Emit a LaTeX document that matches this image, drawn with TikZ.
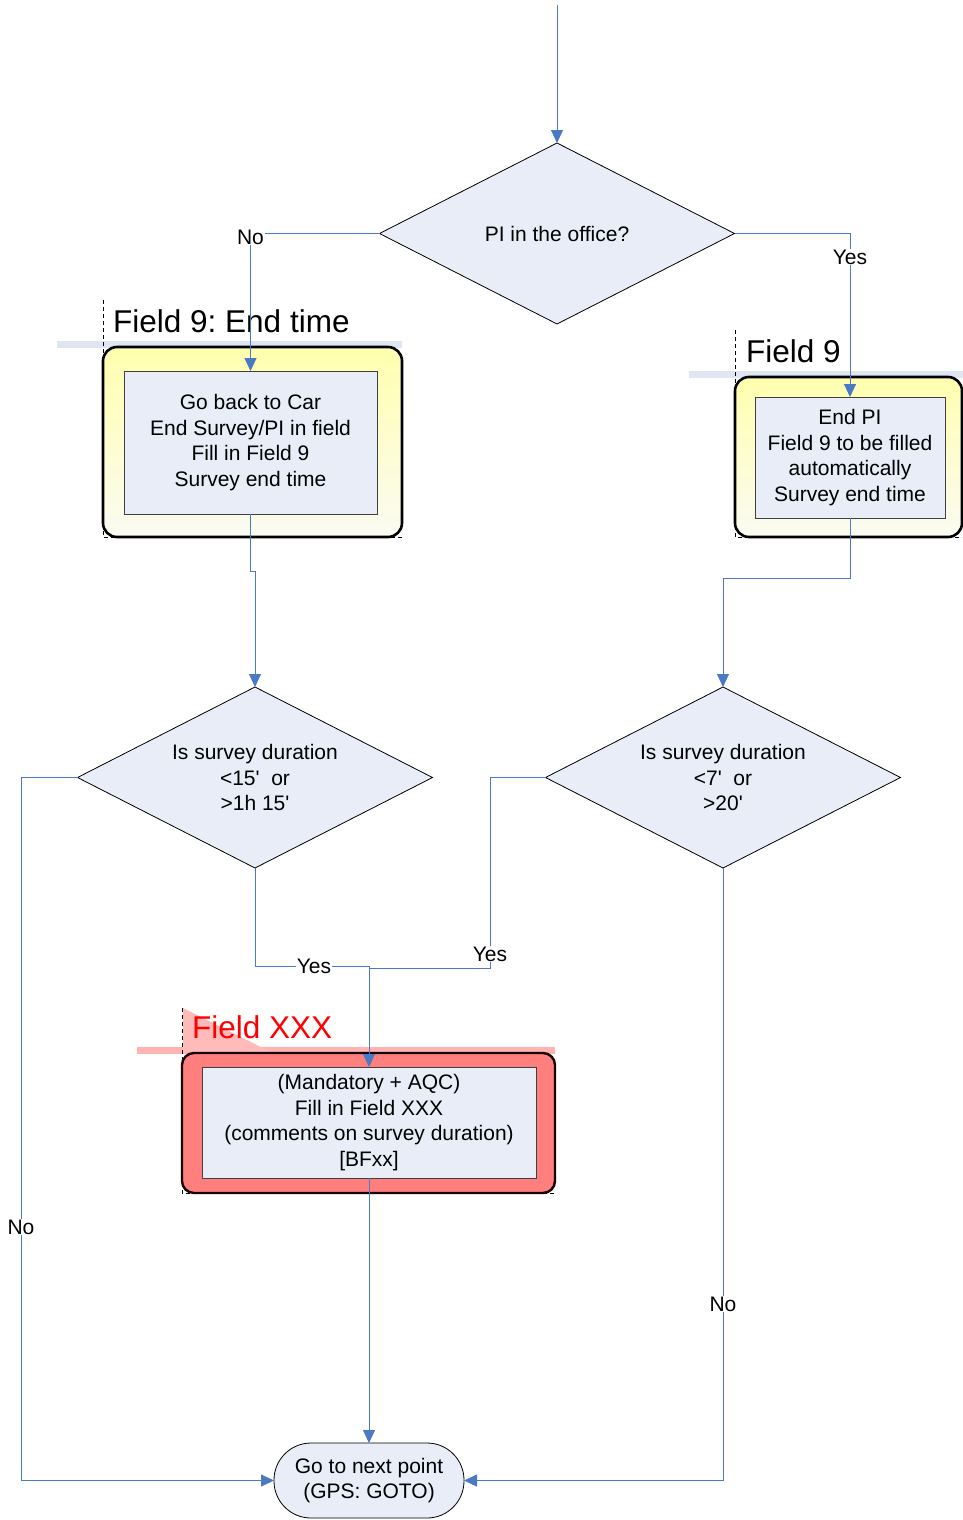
\documentclass[tikz,border=0pt]{standalone}
\usepackage{fontspec}
\setmainfont{Liberation Sans}[Ligatures=TeXOff]
\usetikzlibrary{shapes.geometric,arrows.meta}
\frenchspacing
\definecolor{cline}{HTML}{4A7AC6}
\definecolor{nfill}{HTML}{E8EDF7}
\definecolor{nborder}{HTML}{404040}
\definecolor{ytop}{HTML}{FFFFAE}
\definecolor{ybot}{HTML}{FBFBF3}
\definecolor{bluebar}{HTML}{E0E5F2}
\definecolor{redbar}{HTML}{FFB3B3}
\definecolor{reddark}{HTML}{FF7E7E}
\definecolor{redlight}{HTML}{FFBABA}
\definecolor{redcorner}{HTML}{FF5C5C}
\definecolor{titlered}{HTML}{FF0000}
\begin{document}
\begin{tikzpicture}[x=1pt,y=-1pt,
  txt/.style={font=\fontsize{21}{25.7}\selectfont, align=center},
  dia/.style={diamond, shape aspect=1.96, draw=black, line width=0.8pt, fill=nfill, inner sep=0pt, outer sep=0pt, txt},
  inbox/.style={rectangle, draw=nborder, line width=0.8pt, fill=nfill, inner sep=0pt, outer sep=0pt, txt},
  yframe/.style={rectangle, rounded corners=14pt, draw=black, line width=2.6pt, top color=ytop, bottom color=ybot, inner sep=0pt},
  term/.style={rectangle, rounded corners=37pt, draw=black, line width=0.8pt, fill=nfill, inner sep=0pt, outer sep=0pt, txt, minimum width=190pt, minimum height=75pt},
  conn/.style={draw=cline, line width=1pt, -{Triangle[length=13pt,width=12pt]}},
  plain/.style={draw=cline, line width=1pt},
  lbl/.style={fill=white, inner sep=1pt, font=\fontsize{21}{25}\selectfont},
  ttl/.style={anchor=west, inner sep=0pt, font=\fontsize{31.5}{36}\selectfont},
  callline/.style={draw=black, line width=0.8pt, dash pattern=on 4pt off 3pt}
]
\useasboundingbox (0,0) rectangle (963,1520);

% ---------- callout 1 (Field 9: End time)
\fill[bluebar] (57,341) rectangle (402,348);
\draw[callline] (103,300) -- (103,537) -- (402,537);
\node[yframe, minimum width=299pt, minimum height=190pt] (o1) at (252.5,442) {};
\node[inbox, minimum width=253pt, minimum height=143pt] (b1) at (250.5,442.5) {Go back to Car\\End Survey/PI in field\\Fill in Field 9\\Survey end time};
\node[ttl] (t1) at (113,321) {Field 9: End time};

% ---------- callout 2 (Field 9)
\fill[bluebar] (689,371) rectangle (963,378);
\draw[callline] (735,330) -- (735,537) -- (962,537);
\node[yframe, minimum width=227pt, minimum height=160pt] (o2) at (848.5,457) {};
\node[inbox, minimum width=190pt, minimum height=121pt] (b2) at (850,457.5) {End PI\\Field 9 to be filled\\automatically\\Survey end time};
\node[ttl] (t2) at (746,351) {Field 9};

% ---------- callout 3 (Field XXX)
\fill[redbar] (137,1047) rectangle (555,1054);
\fill[redlight] (183,1008) -- (273,1053) -- (183,1053) -- cycle;
\draw[callline] (182,1008) -- (182,1193) -- (555,1193);
\node[rectangle, rounded corners=12pt, draw=black!90!red, line width=2.4pt, fill=reddark, inner sep=0pt,
      minimum width=373pt, minimum height=140pt,
      path picture={
        \fill[redlight] (273,1053) -- (560,1053) -- (560,1196) -- cycle;
        \fill[redcorner] (180,1053) rectangle (202,1100);
      }] (ox) at (368.5,1123) {};
\node[inbox, minimum width=334pt, minimum height=111pt] (x1) at (369,1122.5) {(Mandatory + AQC)\\Fill in Field XXX\\(comments on survey duration)\\{[}BFxx{]}};
\node[ttl, text=titlered] (t3) at (192,1027) {Field XXX};

% ---------- decisions
\node[dia, minimum width=355pt, minimum height=181pt] (d1) at (557,233.5) {PI in the office?};
\node[dia, minimum width=355pt, minimum height=181pt] (d2) at (255,777.5) {Is survey duration\\\textless15'\ \ or\\\textgreater1h 15'};
\node[dia, minimum width=355pt, minimum height=181pt] (d3) at (723,777.5) {Is survey duration\\\textless7'\ \ or\\\textgreater20'};

% ---------- terminal
\node[term] (t) at (369,1480.5) {Go to next point\\(GPS: GOTO)};

% ---------- coordinates
\coordinate (start) at (557,5);
\coordinate (j) at (369,966);
\coordinate (k) at (490,968);
\coordinate (k2) at (369,968);
\coordinate (c1) at (21,1480.5);

% ---------- connectors
\draw[conn] (start) -- (d1.north);
\draw[conn] (d1.west) -| (b1.north);
\draw[conn] (d1.east) -| (b2.north);
\draw[conn] (b1.south) -- ++(0,57) -| (d2.north);
\draw[conn] (b2.south) -- ++(0,60) -| (d3.north);
\draw[conn] (d2.south) |- (j) -- (x1.north);
\draw[plain] (d3.west) -| (k) -- (k2);
\draw[conn] (d2.west) -| (c1) -- (t.west);
\draw[conn] (d3.south) |- (t.east);
\draw[conn] (x1.south) -- (t.north);

% ---------- labels
\node[lbl] (lno1) at (250.5,237) {No};
\node[lbl] (lyes1) at (850,257) {Yes};
\node[lbl] (lyes2) at (314,966) {Yes};
\node[lbl] (lyes3) at (490,954) {Yes};
\node[lbl] (lno2) at (21,1227) {No};
\node[lbl] (lno3) at (723,1304) {No};
\end{tikzpicture}
\end{document}
